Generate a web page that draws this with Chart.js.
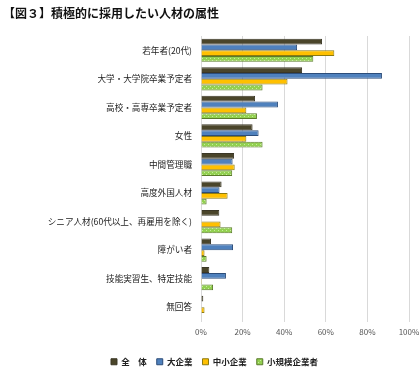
<!DOCTYPE html>
<html><head><meta charset="utf-8">
<script src="https://cdn.jsdelivr.net/npm/chart.js@4/dist/chart.umd.min.js"></script>
<style>html,body{margin:0;padding:0;background:#fff}#wrap{width:420px;height:369px}</style>
</head><body><div id="wrap"><canvas id="c"></canvas></div>
<script>
const titleText = "【図３】積極的に採用したい人材の属性";
const categories = ["若年者(20代)","大学・大学院卒業予定者","高校・高専卒業予定者","女性","中間管理職","高度外国人材","シニア人材(60代以上、再雇用を除く)","障がい者","技能実習生、特定技能","無回答"];
const seriesNames = ["全　体","大企業","中小企業","小規模企業者"];
const zentai   = [58.2,48.6,26.0,24.8,15.9,9.9,8.8,4.8,4.0,1.1];
const daikigyo = [46.2,87.0,37.0,27.7,15.2,8.9,0,15.4,12.0,0];
const chusho   = [64.1,41.6,21.8,21.8,16.2,12.8,9.4,1.7,0.5,1.7];
const shokibo  = [54.0,29.6,26.9,29.6,15.0,2.7,15.0,2.7,5.8,0];
const xTicks = [0,20,40,60,80,100];

function dotPattern(){
  const p = document.createElement('canvas'); p.width=4; p.height=4;
  const g = p.getContext('2d');
  g.fillStyle='#92d050'; g.fillRect(0,0,4,4);
  g.fillStyle='#c8ec9c'; g.fillRect(0,0,1,1); g.fillRect(2,2,1,1);
  return g.createPattern(p,'repeat');
}
const green = dotPattern();
const fills = ['#4a452a','#4f81bd','#ffc000', green];
const borders = ['#3b3726','#2c4d7a','#8c7a10','#5a7a2a'];
const data = [zentai,daikigyo,chusho,shokibo];

const titlePlugin = {id:'ttl',afterDraw(chart){
  const c=chart.ctx; c.save();
  c.font='bold 12px "Noto Sans CJK JP"'; c.fillStyle='#111'; c.textBaseline='middle'; c.textAlign='left';
  c.fillText(titleText,3,13); c.restore();
}};

new Chart(document.getElementById('c'),{
  type:'bar',
  data:{labels:categories,datasets:seriesNames.map((n,i)=>({label:n,data:data[i],backgroundColor:fills[i],borderColor:borders[i],borderWidth:1,barPercentage:1,categoryPercentage:0.81}))},
  plugins:[titlePlugin],
  options:{
    indexAxis:'y',responsive:true,maintainAspectRatio:false,animation:false,
    layout:{padding:{left:20,right:11,top:36,bottom:-7}},
    plugins:{
      title:{display:false},
      legend:{position:'bottom',labels:{boxWidth:6,boxHeight:6,color:'#222',font:{family:'"Noto Sans CJK JP"',size:8.5,weight:'bold'},padding:10}},
      tooltip:{enabled:false}
    },
    scales:{
      x:{min:0,max:100,afterBuildTicks:s=>{s.ticks=xTicks.map(v=>({value:v}));},
        afterFit:s=>{s.paddingLeft=0;s.paddingRight=0;s.height=26;},
        ticks:{callback:v=>v+'%',color:'#555',font:{family:'"Noto Sans CJK JP"',size:8},padding:6},
        grid:{color:'#d9d9d9',drawTicks:false},border:{display:false}},
      y:{afterFit:s=>{s.width=181;s.paddingTop=0;s.paddingBottom=0;},
        ticks:{color:'#222',font:{family:'"Noto Sans CJK JP"',size:8.6},padding:1},
        grid:{display:false},border:{display:false}}
    }
  }
});
</script></body></html>
